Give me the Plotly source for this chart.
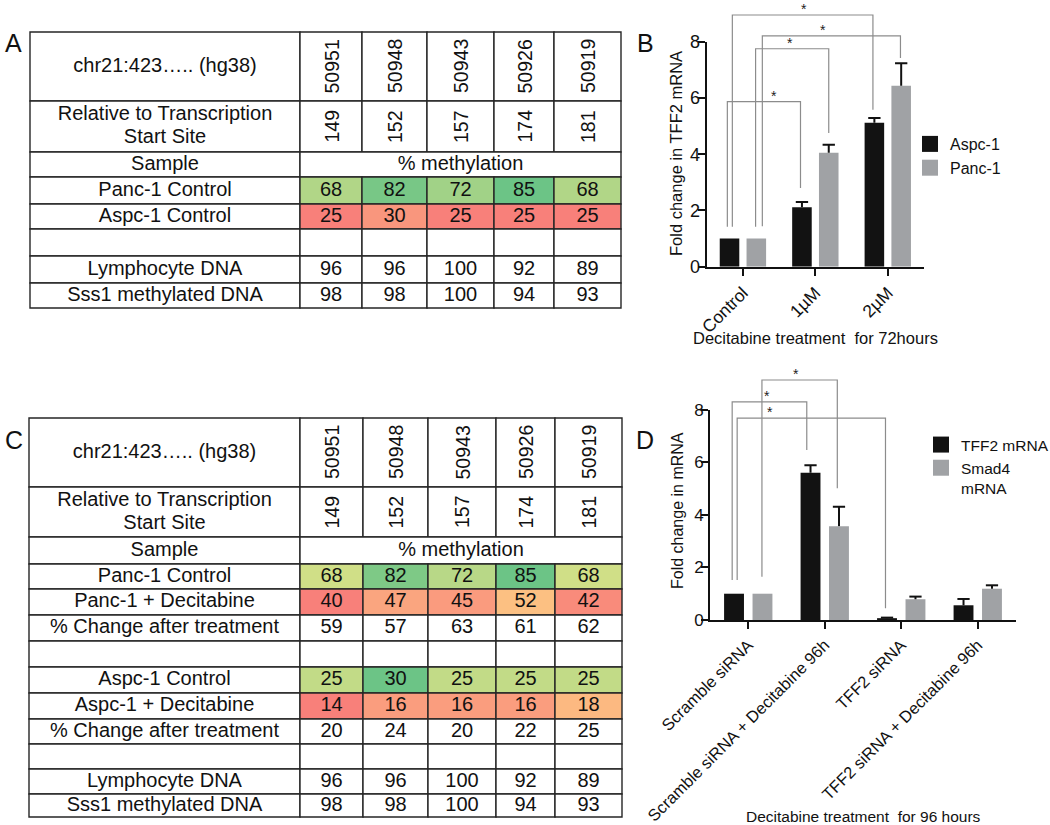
import numpy as np
import plotly.graph_objects as go

W, H = 1050, 825
FONT = "Arial, 'Liberation Sans', Helvetica, sans-serif"

# ---------------- data ----------------
site_coords = ["50951", "50948", "50943", "50926", "50919"]
tss_positions = ["149", "152", "157", "174", "181"]
coord_header = "chr21:423….. (hg38)"
tss_header = ["Relative to Transcription", "Start Site"]
sample_header = "Sample"
meth_header = "% methylation"

panc1_control = [68, 82, 72, 85, 68]
aspc1_control = [25, 30, 25, 25, 25]
panc1_decitabine = [40, 47, 45, 52, 42]
panc1_change = [59, 57, 63, 61, 62]
aspc1_decitabine = [14, 16, 16, 16, 18]
aspc1_change = [20, 24, 20, 22, 25]
lymphocyte_dna = [96, 96, 100, 92, 89]
sss1_dna = [98, 98, 100, 94, 93]

b_categories = ["Control", "1µM", "2µM"]
b_series = ["Aspc-1", "Panc-1"]
b_aspc1 = [1.0, 2.11, 5.12]
b_aspc1_err = [0.0, 0.19, 0.17]
b_panc1 = [1.0, 4.05, 6.43]
b_panc1_err = [0.0, 0.29, 0.80]
b_xtitle = "Decitabine treatment \u00a0for 72hours"
b_ytitle = "Fold change in TFF2 mRNA"

d_categories = ["Scramble siRNA", "Scramble siRNA + Decitabine 96h",
                "TFF2 siRNA", "TFF2 siRNA + Decitabine 96h"]
d_series = ["TFF2 mRNA", "Smad4<br>mRNA"]
d_tff2 = [1.0, 5.60, 0.07, 0.56]
d_tff2_err = [0.0, 0.29, 0.02, 0.24]
d_smad4 = [1.0, 3.57, 0.79, 1.19]
d_smad4_err = [0.0, 0.74, 0.10, 0.13]
d_xtitle = "Decitabine treatment \u00a0for 96 hours"
d_ytitle = "Fold change in mRNA"

# significance brackets (series index, from category, to category, bracket level, leg ends)
b_sig_series = [0, 1, 1, 0]
b_sig_from = [0, 0, 0, 0]
b_sig_to = [1, 1, 2, 2]
b_sig_level = [5.87, 7.75, 8.21, 8.95]
b_sig_left_end = [1.42, 1.42, 1.44, 1.42]
b_sig_right_end = [2.80, 4.75, 7.42, 5.58]

d_sig_series = [1, 0, 0]
d_sig_from = [0, 0, 0]
d_sig_to = [1, 1, 2]
d_sig_level = [9.13, 8.30, 7.68]
d_sig_left_end = [1.65, 1.52, 1.52]
d_sig_right_end = [5.01, 6.47, 0.45]

# ---------------- style ----------------
b_left_nudge = [-0.03, -0.01, 0.083, 0.039]
b_right_nudge = [-0.02, 0.0, -0.01, -0.02]
b_star_frac = [0.64, 0.47, 0.44, 0.51]
d_left_nudge = [-0.007, -0.024, 0.041]
d_right_nudge = [-0.022, -0.049, -0.02]
d_star_frac = [0.45, 0.47, 0.22]

RED = (248, 128, 122)
YEL = (255, 235, 136)
GRN = (108, 196, 134)
BAR_DARK = "#121212"
BAR_GREY = "#a0a2a5"
GRID = "#262626"
SIG = "#8c8c8c"


def scale_color(v, vals):
    lo, mid, hi = min(vals), float(np.percentile(vals, 50)), max(vals)
    if v <= mid:
        t = 0.0 if mid == lo else (v - lo) / (mid - lo)
        a, b = RED, YEL
    else:
        t = 1.0 if hi == mid else (v - mid) / (hi - mid)
        a, b = YEL, GRN
    return "rgb(%d,%d,%d)" % tuple(int(round(a[i] + t * (b[i] - a[i]))) for i in range(3))


def axkey(name):
    return name[0] + "axis" + name[1:]


fig = go.Figure()
shapes = []
annotations = []
layout_axes = {}


def add_table(xa, ya, x0, y0, col_w, row_h, body_rows, fsize=20, pad=3):
    tw, th = sum(col_w), sum(row_h)
    xe = np.concatenate([[0], np.cumsum(col_w)])
    ye = np.concatenate([[0], np.cumsum(row_h)])
    xc = (xe[:-1] + xe[1:]) / 2
    yc = (ye[:-1] + ye[1:]) / 2
    layout_axes[axkey(xa)] = dict(domain=[(x0 - pad) / W, (x0 + tw + pad) / W],
                                  range=[-pad, tw + pad], visible=False, anchor=ya, fixedrange=True)
    layout_axes[axkey(ya)] = dict(domain=[1 - (y0 + th + pad) / H, 1 - (y0 - pad) / H],
                                  range=[th + pad, -pad], visible=False, anchor=xa, fixedrange=True)

    def cell(i, j0, j1, fill="white"):
        shapes.append(dict(type="rect", xref=xa, yref=ya, x0=xe[j0], x1=xe[j1], y0=ye[i], y1=ye[i + 1],
                           line=dict(color=GRID, width=1.4), fillcolor=fill, layer="below"))

    tx, ty, tt = [], [], []
    cell(0, 0, 1)
    tx.append(xc[0]); ty.append(yc[0]); tt.append(coord_header)
    for j, s in enumerate(site_coords):
        cell(0, j + 1, j + 2)
        annotations.append(dict(x=xc[j + 1], y=yc[0], xref=xa, yref=ya, text=s, textangle=-90,
                                xanchor="center", yanchor="middle", showarrow=False,
                                font=dict(size=fsize - 0.5, family=FONT, color="#111")))
    cell(1, 0, 1)
    for k, line in enumerate(tss_header):
        tx.append(xc[0]); ty.append(yc[1] + (k - 0.5) * 23); tt.append(line)
    for j, s in enumerate(tss_positions):
        cell(1, j + 1, j + 2)
        annotations.append(dict(x=xc[j + 1], y=yc[1], xref=xa, yref=ya, text=s, textangle=-90,
                                xanchor="center", yanchor="middle", showarrow=False,
                                font=dict(size=fsize - 0.5, family=FONT, color="#111")))
    cell(2, 0, 1)
    tx.append(xc[0]); ty.append(yc[2]); tt.append(sample_header)
    cell(2, 1, 6)
    tx.append((xe[1] + xe[6]) / 2); ty.append(yc[2]); tt.append(meth_header)

    groups = {}
    for label, vals, g in body_rows:
        if g is not None:
            groups.setdefault(g, []).extend(vals)
    for r, (label, vals, g) in enumerate(body_rows):
        i = r + 3
        cell(i, 0, 1)
        if label:
            tx.append(xc[0]); ty.append(yc[i]); tt.append(label)
        for j in range(5):
            if vals is None:
                cell(i, j + 1, j + 2)
                continue
            fill = scale_color(vals[j], groups[g]) if g is not None else "white"
            cell(i, j + 1, j + 2, fill)
            tx.append(xc[j + 1]); ty.append(yc[i]); tt.append(str(vals[j]))

    fig.add_trace(go.Scatter(x=tx, y=ty, text=tt, mode="text", textposition="middle center",
                             textfont=dict(size=fsize, family=FONT, color="#111"),
                             xaxis=xa, yaxis=ya, showlegend=False, hoverinfo="skip"))


add_table("x", "y", 30, 32, [270, 62, 65, 67, 60, 67], [69, 51, 25, 27, 25, 27, 27, 25],
          [("Panc-1 Control", panc1_control, 0),
           ("Aspc-1 Control", aspc1_control, 0),
           ("", None, None),
           ("Lymphocyte DNA", lymphocyte_dna, None),
           ("Sss1 methylated DNA", sss1_dna, None)])

add_table("x3", "y3", 29, 418, [271, 63, 65, 68, 59, 67],
          [69, 50, 27, 25, 26, 26, 26, 26, 26, 25, 25, 25, 23],
          [("Panc-1 Control", panc1_control, 0),
           ("Panc-1 + Decitabine", panc1_decitabine, 0),
           ("% Change after treatment", panc1_change, None),
           ("", None, None),
           ("Aspc-1 Control", aspc1_control, 1),
           ("Aspc-1 + Decitabine", aspc1_decitabine, 1),
           ("% Change after treatment", aspc1_change, None),
           ("", None, None),
           ("Lymphocyte DNA", lymphocyte_dna, None),
           ("Sss1 methylated DNA", sss1_dna, None)])


def add_bar_panel(xa, ya, ysig, legend, cats, names, vals_list, errs_list, off, bw, cap,
                  px_x0, px_x1, px_y0, px_y1, sig_top_px, tickfont, sig):
    n = len(cats)
    unit = (px_y1 - px_y0) / 8.0
    layout_axes[axkey(xa)] = dict(domain=[px_x0 / W, px_x1 / W], range=[-0.5, n - 0.5], anchor=ya,
                                  showline=True, linewidth=2, linecolor="#111", showgrid=False,
                                  zeroline=False, ticks="outside", ticklen=7, tickwidth=2,
                                  tickcolor="#111", tickvals=list(range(n)), ticktext=cats,
                                  tickangle=-45, tickfont=dict(size=tickfont[0], family=FONT, color="#111"),
                                  fixedrange=True)
    layout_axes[axkey(ya)] = dict(domain=[1 - px_y1 / H, 1 - px_y0 / H], range=[0, 8], anchor=xa,
                                  showline=True, linewidth=2, linecolor="#111", showgrid=False,
                                  zeroline=False, ticks="outside", ticklen=7, tickwidth=2,
                                  tickcolor="#111", tickvals=[0, 2, 4, 6, 8], ticklabelstandoff=-6,
                                  tickfont=dict(size=tickfont[1], family=FONT, color="#111"),
                                  fixedrange=True)
    layout_axes[axkey(ysig)] = dict(domain=[1 - px_y1 / H, 1 - sig_top_px / H],
                                    range=[0, (px_y1 - sig_top_px) / unit], anchor=xa,
                                    visible=False, fixedrange=True)
    colors = [BAR_DARK, BAR_GREY]
    offsets = [-off, off]
    centers = []
    for s in range(2):
        xs = [i + offsets[s] for i in range(n)]
        centers.append(xs)
        fig.add_trace(go.Bar(x=xs, y=vals_list[s], width=bw, marker=dict(color=colors[s], line=dict(width=0)),
                             xaxis=xa, yaxis=ya, showlegend=False, name=names[s]))
        X, Y = [], []
        for x, v, e in zip(xs, vals_list[s], errs_list[s]):
            if e <= 0:
                continue
            X += [x, x, None, x - cap, x + cap, None]
            Y += [v, v + e, None, v + e, v + e, None]
        fig.add_trace(go.Scatter(x=X, y=Y, mode="lines", line=dict(color="#111", width=2),
                                 xaxis=xa, yaxis=ya, showlegend=False, hoverinfo="skip"))
        fig.add_trace(go.Scatter(x=[None], y=[None], mode="markers", name=names[s],
                                 marker=dict(symbol="square", size=17, color=colors[s], line=dict(width=0)),
                                 xaxis=xa, yaxis=ya, legend=legend, showlegend=True))
    series, frm, to, level, lend, rend, ln, rn, frac = sig
    X, Y = [], []
    for s, f, t, lv, le, re_, a, b, fr in zip(series, frm, to, level, lend, rend, ln, rn, frac):
        xl = centers[s][f] + a
        xr = centers[s][t] + b
        X += [xl, xl, xr, xr, None]
        Y += [le, lv, lv, re_, None]
        annotations.append(dict(x=xl + fr * (xr - xl), y=lv, xref=xa, yref=ysig, text="*",
                                showarrow=False, xanchor="center", yanchor="bottom", yshift=-4,
                                font=dict(size=14, family=FONT, color="#222")))
    fig.add_trace(go.Scatter(x=X, y=Y, mode="lines", line=dict(color=SIG, width=1.2),
                             xaxis=xa, yaxis=ysig, showlegend=False, hoverinfo="skip"))


add_bar_panel("x2", "y2", "y5", "legend", b_categories, b_series,
              [b_aspc1, b_panc1], [b_aspc1_err, b_panc1_err], 0.185, 0.27, 0.085,
              706.7, 924, 41.7, 266.7, 0, (17.5, 18),
              (b_sig_series, b_sig_from, b_sig_to, b_sig_level, b_sig_left_end, b_sig_right_end,
               b_left_nudge, b_right_nudge, b_star_frac))

add_bar_panel("x4", "y4", "y6", "legend2", d_categories, d_series,
              [d_tff2, d_smad4], [d_tff2_err, d_smad4_err], 0.186, 0.26, 0.08,
              710, 1016, 409.7, 620, 355, (16.5, 17),
              (d_sig_series, d_sig_from, d_sig_to, d_sig_level, d_sig_left_end, d_sig_right_end,
               d_left_nudge, d_right_nudge, d_star_frac))


def txt(x, y, text, size, angle=0):
    annotations.append(dict(x=x / W, y=1 - y / H, xref="paper", yref="paper", text=text,
                            textangle=angle, showarrow=False, xanchor="center", yanchor="middle",
                            font=dict(size=size, family=FONT, color="#111")))


txt(676, 154, b_ytitle, 16.5, -90)
txt(815.8, 338.3, b_xtitle, 16.5)
txt(677, 511, d_ytitle, 16, -90)
txt(863.3, 816, d_xtitle, 15.5)

for lab, x, y in [("A", 13.4, 43), ("B", 645, 43), ("C", 14, 440), ("D", 645, 440)]:
    txt(x, y, lab, 25)

fig.update_layout(
    width=W, height=H,
    margin=dict(l=0, r=0, t=0, b=0, autoexpand=False),
    paper_bgcolor="white", plot_bgcolor="rgba(0,0,0,0)",
    barmode="overlay",
    showlegend=True,
    legend=dict(x=910 / W, y=1 - 127 / H, xanchor="left", yanchor="top",
                font=dict(size=16, family=FONT, color="#111"), bgcolor="rgba(0,0,0,0)",
                borderwidth=0, tracegroupgap=0),
    legend2=dict(x=921 / W, y=1 - 428 / H, xanchor="left", yanchor="top", valign="top",
                 font=dict(size=15.5, family=FONT, color="#111"), bgcolor="rgba(0,0,0,0)",
                 borderwidth=0, tracegroupgap=0),
    shapes=shapes,
    annotations=annotations,
    **layout_axes,
)

fig.write_html("out.html", config={"displayModeBar": False},
               post_script="document.body.style.margin='0';")
